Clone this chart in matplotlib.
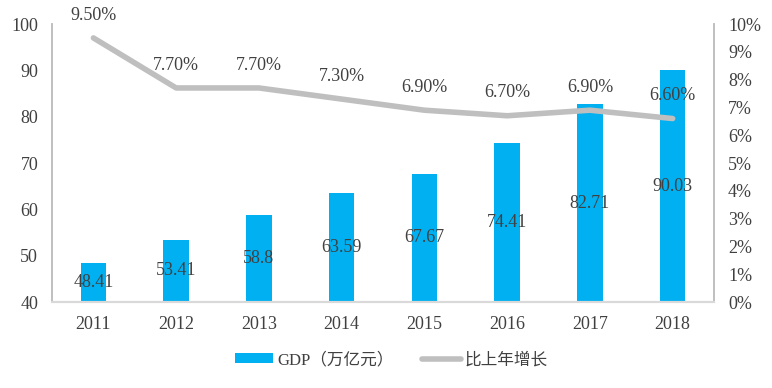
import matplotlib
matplotlib.use("Agg")
from matplotlib import pyplot as plt
from matplotlib.ticker import FuncFormatter

years = ["2011", "2012", "2013", "2014", "2015", "2016", "2017", "2018"]
gdp = [48.41, 53.41, 58.8, 63.59, 67.67, 74.41, 82.71, 90.03]
growth = [9.5, 7.7, 7.7, 7.3, 6.9, 6.7, 6.9, 6.6]
gdp_labels = ["48.41", "53.41", "58.8", "63.59", "67.67", "74.41", "82.71", "90.03"]
growth_labels = ["9.50%", "7.70%", "7.70%", "7.30%", "6.90%", "6.70%", "6.90%", "6.60%"]

fonts = ["Liberation Serif", "Noto Sans CJK SC", "DejaVu Sans"]
plt.rcParams["font.family"] = fonts
txt = "#404040"
blue = "#00B0F0"
grey = "#BFBFBF"

fig = plt.figure(figsize=(7.72, 3.88), dpi=100)
ax = fig.add_axes([0.0674, 0.2216, 0.8575, 0.7165])
ax2 = ax.twinx()

x = list(range(len(years)))
bars = ax.bar(x, gdp, width=0.31, color=blue, zorder=2)
ax.set_ylim(40, 100)
ax.set_xlim(-0.5, len(years) - 0.5)
ax.set_yticks(range(40, 101, 10))
ax.set_xticks(x)
ax.set_xticklabels(years)

# labels centred in the visible part of each bar
for i, v in enumerate(gdp):
    ax.text(i, (40 + v) / 2, gdp_labels[i], ha="center", va="center",
            fontsize=13, color=txt, zorder=3)

line, = ax2.plot(x, growth, color=grey, linewidth=4, solid_capstyle="round",
                 solid_joinstyle="round", zorder=4)
ax2.set_ylim(0, 10)
ax2.set_yticks(range(0, 11))
ax2.yaxis.set_major_formatter(FuncFormatter(lambda v, p: f"{int(v)}%"))
for i, v in enumerate(growth):
    ax2.annotate(growth_labels[i], (i, v), xytext=(0, 16.5), textcoords="offset points",
                 ha="center", va="center", fontsize=13, color=txt)

for a in (ax, ax2):
    a.tick_params(length=0, colors=txt, labelsize=13)
    a.spines["top"].set_visible(False)
    for s in ("left", "right"):
        a.spines[s].set_color(grey)
        a.spines[s].set_linewidth(1.2)
    a.spines["bottom"].set_color("#D9D9D9")
    a.spines["bottom"].set_linewidth(1.5)
ax.tick_params(axis="x", pad=10)
ax.tick_params(axis="y", pad=10)
ax2.tick_params(axis="y", pad=10)
# line on top of bars
ax2.set_zorder(2)
ax.set_zorder(1)
ax2.patch.set_visible(False)

fig.legend([bars, line], ["GDP（万亿元）", "比上年增长"], loc="center",
           bbox_to_anchor=(0.507, 0.072), ncol=2, frameon=False, fontsize=12,
           labelcolor=txt, handlelength=2.3, handleheight=0.5, columnspacing=1.7,
           handletextpad=0.25)

fig.savefig("out.png", dpi=100)
